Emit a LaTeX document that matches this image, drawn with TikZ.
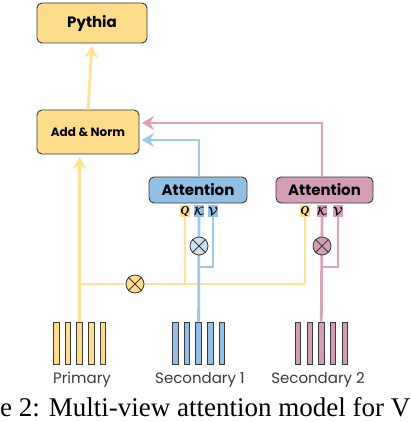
\documentclass[tikz,border=0pt]{standalone}
\usepackage{amsmath}
\usepackage{fontspec}
\setmainfont{Liberation Serif}
\newfontfamily\pop{Poppins}
\usetikzlibrary{arrows.meta}
\definecolor{ybox}{HTML}{FDDC8B}
\definecolor{yline}{HTML}{FFE294}
\definecolor{bbox}{HTML}{92BFE6}
\definecolor{bline}{HTML}{9DC9EE}
\definecolor{blight}{HTML}{CDE3F2}
\definecolor{pbox}{HTML}{D59CB6}
\definecolor{pline}{HTML}{D9A3BC}
\definecolor{edge}{HTML}{3A3A3A}
\tikzset{
  box/.style={draw=edge, line width=0.9pt, rounded corners=5pt, inner sep=0pt, font=\pop\bfseries},
  conn/.style={line width=2.8pt},
  arr/.style={conn, shorten >=2.5pt, -{Stealth[length=12pt,width=14pt,inset=4pt]}},
  tab/.style={inner sep=0pt, minimum width=10pt, minimum height=12pt, font=\fontsize{12}{12}\selectfont},
  mult/.style={circle, draw=edge, line width=0.8pt, minimum size=18pt, inner sep=0pt},
  bar/.style={draw=edge, line width=0.8pt, minimum width=5.5pt, minimum height=42pt, inner sep=0pt},
  lbl/.style={font=\pop\fontsize{15}{15}\selectfont, text=edge, anchor=base}
}
\begin{document}
\begin{tikzpicture}[x=1pt,y=-1pt]
\useasboundingbox (0,0) rectangle (410,422);
% boxes
\node[box, fill=ybox, minimum width=110pt, minimum height=40pt, font=\pop\bfseries\fontsize{15}{15}\selectfont] (pythia) at (92,23) {Pythia};
\node[box, fill=ybox, minimum width=102pt, minimum height=44pt, font=\pop\bfseries\fontsize{12}{12}\selectfont] (addnorm) at (88,132) {Add \& Norm};
\node[box, fill=bbox, minimum width=98pt, minimum height=26pt, font=\pop\bfseries\fontsize{15}{15}\selectfont] (att1) at (198,190) {Attention};
\node[box, fill=pbox, minimum width=97pt, minimum height=26pt, font=\pop\bfseries\fontsize{15}{15}\selectfont] (att2) at (324.5,190) {Attention};
% tabs
\node[tab, fill=ybox] (q1) at (185,211) {\bfseries\itshape Q};
\node[tab, fill=bbox] (k1) at (199,211) {$\boldsymbol{\mathcal{K}}$};
\node[tab, fill=bbox] (v1) at (213,211) {$\boldsymbol{\mathcal{V}}$};
\node[tab, fill=ybox] (q2) at (305,211) {\bfseries\itshape Q};
\node[tab, fill=pbox] (k2) at (322,211) {$\boldsymbol{\mathcal{K}}$};
\node[tab, fill=pbox] (v2) at (338,211) {$\boldsymbol{\mathcal{V}}$};
% bar anchors (middle bars)
\node[bar, fill=ybox] (p3) at (79.6,343) {};
\node[bar, fill=bbox] (b3) at (198.6,343) {};
\node[bar, fill=pbox] (r3) at (321.3,343) {};
% coordinates
\coordinate (yl) at (p3.north |- 0,284);
\coordinate (yq1) at (q1.south |- 0,284);
\coordinate (yq2) at (q2.south |- 0,284);
\coordinate (bv) at (v1.south |- 0,267);
\coordinate (pv) at (v2.south |- 0,267);
% connectors
\draw[conn, yline] (yl) -- (yq2);
\draw[conn, yline] (yq1) -- (q1.south);
\draw[conn, yline] (yq2) -- (q2.south);
\draw[arr, yline] (p3.north) -- (addnorm.south -| p3.north);
\draw[arr, yline] (addnorm.north) -- (pythia.south);
\draw[conn, bline] (b3.north) -- (k1.south);
\draw[conn, bline] (v1.south) |- (bv) -- (bv -| k1.south);
\draw[arr, bline] (att1.north -| k1.south) |- (addnorm.east |- 0,140);
\draw[conn, pline] (r3.north) -- (k2.south);
\draw[conn, pline] (v2.south) |- (pv) -- (pv -| k2.south);
\draw[arr, pline] (att2.north -| k2.south) |- (addnorm.east |- 0,123);
% bars on top
\foreach \i in {1,...,5} {
  \node[bar, fill=ybox] at ({56.3+11.67*(\i-1)},343) {};
  \node[bar, fill=bbox] at ({175.3+11.67*(\i-1)},343) {};
  \node[bar, fill=pbox] at ({298+11.67*(\i-1)},343) {};
}
% multiply circles
\node[mult, fill=ybox] (m0) at (135,284) {};
\node[mult, fill=blight] (m1) at (k1.south |- 0,246) {};
\node[mult, fill=pbox] (m2) at (k2.south |- 0,246) {};
\foreach \m in {m0,m1,m2} {
  \draw[edge, line width=0.8pt] (\m.north east) -- (\m.south west) (\m.north west) -- (\m.south east);
}
% labels
\node[lbl] (lp) at (82,383) {Primary};
\node[lbl] (ls1) at (200,383) {Secondary 1};
\node[lbl] (ls2) at (318,383) {Secondary 2};
% caption
\node[anchor=base west, inner sep=0pt, font=\fontsize{27}{27}\selectfont] (cap) at (0,416) {e 2: Multi-view attention model for V};
\end{tikzpicture}
\end{document}
